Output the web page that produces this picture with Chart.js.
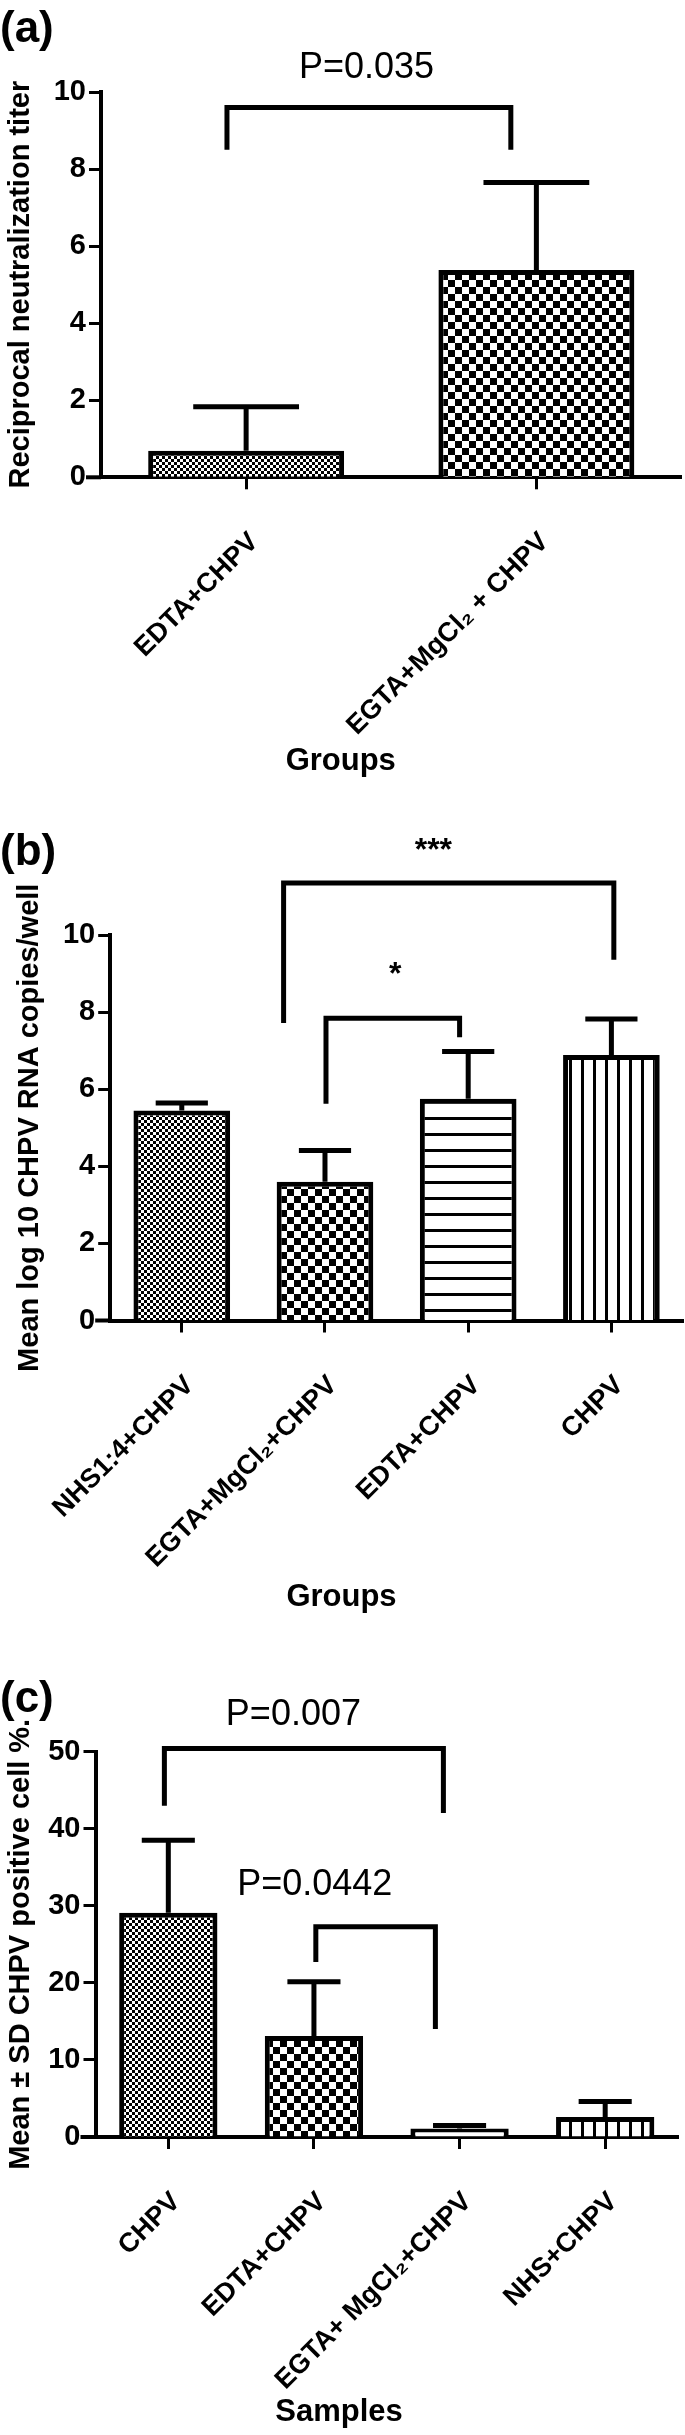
<!DOCTYPE html>
<html>
<head>
<meta charset="utf-8">
<script src="https://cdn.jsdelivr.net/npm/chart.js@4.4.1/dist/chart.umd.min.js"></script>
<style>
    body { margin: 0; background: #fff; }
    canvas { position: absolute; left: 0; }
</style>
</head>
<body>
<canvas id="chartA" width="685" height="790" style="top:0px"></canvas>
<canvas id="chartB" width="685" height="830" style="top:790px"></canvas>
<canvas id="chartC" width="685" height="815" style="top:1620px"></canvas>
<script>
// ---------- Panel (a) ----------
const aLabels = ["EDTA+CHPV", "EGTA+MgCl\u2082 + CHPV"];
const aMeans = [0.69, 5.38];
const aSD = [1.14, 2.27];
const aFills = ["fine", "coarse"];
const aBrackets = [{ x1: -0.066, x2: 0.912, top: 9.6, low1: 8.5, low2: 8.5 }];
const aNotes = [{ text: "P=0.035", x: 0.415, y: 10.61, bold: false, size: 36 }];

// ---------- Panel (b) ----------
const bLabels = ["NHS1:4+CHPV", "EGTA+MgCl\u2082+CHPV", "EDTA+CHPV", "CHPV"];
const bMeans = [5.45, 3.60, 5.75, 6.89];
const bSD = [0.19, 0.81, 1.23, 0.93];
const bFills = ["fine", "coarse", "hlines", "vlines"];
const bBrackets = [
    { x1: 0.711, x2: 3.017, top: 11.35, low1: 7.72, low2: 9.36 },
    { x1: 1.007, x2: 1.94, top: 7.84, low1: 5.62, low2: 7.35 }
];
const bNotes = [
    { text: "***", x: 1.757, y: 12.17, bold: true, size: 32 },
    { text: "*", x: 1.49, y: 8.96, bold: true, size: 32 }
];

// ---------- Panel (c) ----------
const cLabels = ["CHPV", "EDTA+CHPV", "EGTA+ MgCl\u2082+CHPV", "NHS+CHPV"];
const cMeans = [29.1, 13.1, 1.1, 2.6];
const cSD = [9.4, 7.05, 0.4, 2.0];
const cFills = ["fine", "coarse", "white", "vlines"];
const cBrackets = [
    { x1: -0.027, x2: 1.889, top: 50.4, low1: 43.0, low2: 42.05 },
    { x1: 1.013, x2: 1.834, top: 27.3, low1: 22.7, low2: 14.0 }
];
const cNotes = [
    { text: "P=0.007", x: 0.859, y: 54.7, bold: false, size: 36 },
    { text: "P=0.0442", x: 1.006, y: 32.7, bold: false, size: 36 }
];

const FONT = "'Liberation Sans', Arial, Helvetica, sans-serif";

// Build the hatch / checker fills
function makePattern(ctx, kind) {
    let c = document.createElement("canvas");
    let g = c.getContext("2d");
    if (kind === "fine" || kind === "coarse") {
        let s = kind === "fine" ? 3 : 7;
        c.width = c.height = s * 2;
        g.fillStyle = "#fff";
        g.fillRect(0, 0, s * 2, s * 2);
        g.fillStyle = "#000";
        g.fillRect(0, 0, s, s);
        g.fillRect(s, s, s, s);
    } else if (kind === "hlines") {
        c.width = 4; c.height = 16;
        g.fillStyle = "#fff"; g.fillRect(0, 0, 4, 16);
        g.fillStyle = "#000"; g.fillRect(0, 7, 4, 3);
    } else if (kind === "vlines") {
        c.width = 12; c.height = 4;
        g.fillStyle = "#fff"; g.fillRect(0, 0, 12, 4);
        g.fillStyle = "#000"; g.fillRect(5, 0, 3, 4);
    } else {
        return "#fff";
    }
    return ctx.createPattern(c, "repeat");
}

// Error bars, significance brackets, notes and panel letter
const sigMarks = {
    id: "sigMarks",
    afterDatasetsDraw(chart, args, opts) {
        let ctx = chart.ctx;
        let xs = chart.scales.x, ys = chart.scales.y;
        let meta = chart.getDatasetMeta(0);
        ctx.save();
        ctx.strokeStyle = "#000";

        // x axis stub left of the y axis
        ctx.lineWidth = 4;
        ctx.beginPath();
        ctx.moveTo(xs.left - 15, ys.bottom);
        ctx.lineTo(xs.left, ys.bottom);
        ctx.stroke();

        ctx.lineWidth = 5;
        opts.means.forEach((m, i) => {
            let bar = meta.data[i];
            let half = bar.width * 0.27;
            let yTop = ys.getPixelForValue(m + opts.sd[i]);
            ctx.beginPath();
            ctx.moveTo(bar.x, bar.y);
            ctx.lineTo(bar.x, yTop);
            ctx.moveTo(bar.x - half, yTop);
            ctx.lineTo(bar.x + half, yTop);
            ctx.stroke();
        });

        opts.brackets.forEach(b => {
            let x1 = xs.getPixelForValue(b.x1), x2 = xs.getPixelForValue(b.x2);
            ctx.beginPath();
            ctx.moveTo(x1, ys.getPixelForValue(b.low1));
            ctx.lineTo(x1, ys.getPixelForValue(b.top));
            ctx.lineTo(x2, ys.getPixelForValue(b.top));
            ctx.lineTo(x2, ys.getPixelForValue(b.low2));
            ctx.stroke();
        });

        ctx.fillStyle = "#000";
        ctx.textAlign = "center";
        ctx.textBaseline = "middle";
        opts.notes.forEach(n => {
            ctx.font = (n.bold ? "bold " : "") + n.size + "px " + FONT;
            ctx.fillText(n.text, xs.getPixelForValue(n.x), ys.getPixelForValue(n.y));
        });

        ctx.font = "bold 44px " + FONT;
        ctx.textAlign = "left";
        ctx.fillText(opts.panel, 0, opts.panelY);
        ctx.restore();
    }
};

function panelChart(id, cfg) {
    let canvas = document.getElementById(id);
    let ctx = canvas.getContext("2d");
    let tickFont = { family: FONT, size: 29, weight: "bold" };
    let catFont = { family: FONT, size: 27, weight: "bold" };

    return new Chart(ctx, {
        type: "bar",
        data: {
            labels: cfg.labels,
            datasets: [{
                data: cfg.means,
                backgroundColor: cfg.fills.map(f => makePattern(ctx, f)),
                borderColor: "#000",
                borderWidth: 5,
                barPercentage: 0.675,
                categoryPercentage: 1
            }]
        },
        options: {
            responsive: false,
            animation: false,
            devicePixelRatio: 1,
            layout: { padding: { top: cfg.top, right: cfg.right, left: 0, bottom: 0 } },
            plugins: {
                legend: { display: false },
                tooltip: { enabled: false },
                title: {
                    display: true,
                    position: "bottom",
                    text: cfg.xTitle,
                    color: "#000",
                    font: { family: FONT, size: 31, weight: "bold" },
                    // negative top lets the rotated labels use the space beside the title
                    padding: { top: -25, bottom: cfg.titlePad }
                },
                sigMarks: {
                    means: cfg.means,
                    sd: cfg.sd,
                    brackets: cfg.brackets,
                    notes: cfg.notes,
                    panel: cfg.panel,
                    panelY: cfg.panelY
                }
            },
            scales: {
                x: {
                    afterFit: s => { s.height = cfg.xHeight; },
                    grid: { display: true, offset: false, drawOnChartArea: false, tickLength: 12, tickWidth: 3, tickColor: "#000" },
                    border: { display: true, color: "#000", width: 4 },
                    ticks: { color: "#000", font: catFont, minRotation: 45, maxRotation: 45, autoSkip: false, padding: 37, labelOffset: 8 }
                },
                y: {
                    min: 0,
                    max: cfg.max,
                    afterFit: s => { s.width = cfg.yWidth; },
                    grid: { drawOnChartArea: false, tickLength: 12, tickWidth: 3, tickColor: "#000" },
                    border: { display: true, color: "#000", width: 4 },
                    ticks: { stepSize: cfg.step, color: "#000", font: tickFont, padding: 3 },
                    title: {
                        display: true,
                        text: cfg.yTitle,
                        color: "#000",
                        font: { family: FONT, size: 29, weight: "bold" },
                        padding: { top: 4, bottom: 0 }
                    }
                }
            }
        },
        plugins: [sigMarks]
    });
}

panelChart("chartA", {
    labels: aLabels, means: aMeans, sd: aSD, fills: aFills,
    brackets: aBrackets, notes: aNotes, panel: "(a)", panelY: 30,
    max: 10, step: 2, xTitle: "Groups", yTitle: "Reciprocal neutralization titer",
    top: 92, right: 3.5, yWidth: 101, xHeight: 290.5, titlePad: 10
});

panelChart("chartB", {
    labels: bLabels, means: bMeans, sd: bSD, fills: bFills,
    brackets: bBrackets, notes: bNotes, panel: "(b)", panelY: 63,
    max: 10, step: 2, xTitle: "Groups", yTitle: "Mean log 10 CHPV RNA copies/well",
    top: 145, right: 2, yWidth: 101.5, xHeight: 283.3, titlePad: 4
});

panelChart("chartC", {
    labels: cLabels, means: cMeans, sd: cSD, fills: cFills,
    brackets: cBrackets, notes: cNotes, panel: "(c)", panelY: 80,
    max: 50, step: 10, xTitle: "Samples", yTitle: "Mean \u00b1 SD CHPV positive cell %.",
    top: 131.7, right: 7, yWidth: 95.5, xHeight: 281.4, titlePad: 4.4
});
</script>
</body>
</html>
